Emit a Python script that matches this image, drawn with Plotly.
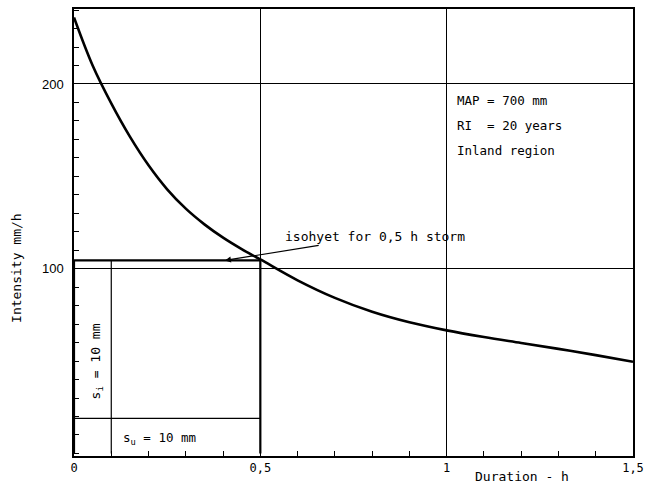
import plotly.graph_objects as go

# Intensity-duration curve
duration_h = [0.0, 0.05, 0.1, 0.15, 0.2, 0.25, 0.3, 0.35, 0.4, 0.45, 0.5,
              0.6, 0.7, 0.8, 0.9, 1.0, 1.1, 1.2, 1.3, 1.4, 1.5]
intensity = [236, 210, 189.5, 171.5, 156, 143, 132.5, 124, 116.8, 110.6, 105,
             93.7, 84.2, 76.7, 71.0, 66.6, 63.0, 59.8, 56.6, 53.2, 49.6]

storm_duration = 0.5
storm_intensity = 104.5
si_duration = 0.1
su_intensity = 19

x_tickvals = [0, 0.5, 1, 1.5]
x_ticktext = ["0", "0,5", "1", "1,5"]
y_tickvals = [100, 200]
y_ticktext = ["100", "200"]

info_lines = ["MAP = 700 mm", "RI&nbsp;&nbsp;= 20 years", "Inland region"]

mono = "DejaVu Sans Mono"
sans = "Liberation Sans"

fig = go.Figure()

# storm rectangle
fig.add_trace(go.Scatter(
    x=[0, 0, storm_duration, storm_duration],
    y=[0, storm_intensity, storm_intensity, 0],
    mode="lines", line=dict(color="black", width=2.2), hoverinfo="skip"))
# s_i divider
fig.add_trace(go.Scatter(
    x=[si_duration, si_duration], y=[0, storm_intensity],
    mode="lines", line=dict(color="black", width=1.2), hoverinfo="skip"))
# s_u divider
fig.add_trace(go.Scatter(
    x=[0, storm_duration], y=[su_intensity, su_intensity],
    mode="lines", line=dict(color="black", width=1.2), hoverinfo="skip"))
# curve
fig.add_trace(go.Scatter(
    x=duration_h, y=intensity, mode="lines", line_shape="spline",
    line=dict(color="black", width=2.6), hoverinfo="skip"))

annotations = []
for i, t in enumerate(info_lines):
    annotations.append(dict(
        x=1.022, y=191.3 - i * 13.6, xref="x", yref="y", text=t, showarrow=False,
        xanchor="left", yanchor="middle", font=dict(family=mono, size=12.5, color="black")))

annotations.append(dict(
    x=0.405, y=storm_intensity, xref="x", yref="y",
    text="isohyet for 0,5 h storm", showarrow=True,
    ax=150, ay=-24, arrowhead=2, arrowsize=1, arrowwidth=1.2, arrowcolor="black",
    font=dict(family=mono, size=13, color="black")))

annotations.append(dict(
    x=0.06, y=50, xref="x", yref="y", text="s<sub>i</sub> = 10 mm",
    textangle=-90, showarrow=False, xanchor="center", yanchor="middle",
    font=dict(family=mono, size=13, color="black")))
annotations.append(dict(
    x=0.23, y=8, xref="x", yref="y", text="s<sub>u</sub> = 10 mm",
    showarrow=False, xanchor="center", yanchor="middle",
    font=dict(family=mono, size=12.5, color="black")))

annotations.append(dict(
    x=-0.102, y=100.4, xref="paper", yref="y", text="Intensity mm/h",
    textangle=-90, showarrow=False, xanchor="center", yanchor="middle",
    font=dict(family=mono, size=13, color="black")))
annotations.append(dict(
    x=1.202, y=-1.4, xref="x", yref="y", yshift=-20, text="Duration - h",
    showarrow=False, xanchor="center", yanchor="middle",
    font=dict(family=mono, size=13, color="black")))

fig.update_layout(
    width=648, height=484,
    margin=dict(l=74, r=15, t=9, b=28, autoexpand=False),
    paper_bgcolor="white", plot_bgcolor="white",
    showlegend=False,
    annotations=annotations,
    xaxis=dict(
        range=[0, 1.5], tickvals=x_tickvals, ticktext=x_ticktext,
        ticks="inside", ticklen=5, tickcolor="black",
        showgrid=True, gridcolor="black", gridwidth=1,
        showline=True, linecolor="black", linewidth=1.5, mirror=True,
        zeroline=False,
        tickfont=dict(family=mono, size=12, color="black"),
        minor=dict(tick0=0, dtick=0.1, ticks="inside", ticklen=5,
                   tickcolor="black", showgrid=False),
    ),
    yaxis=dict(
        range=[-1.4, 240.6], tickvals=y_tickvals, ticktext=y_ticktext,
        ticks="inside", ticklen=5, tickcolor="black",
        showgrid=True, gridcolor="black", gridwidth=1,
        showline=True, linecolor="black", linewidth=1.5, mirror=True,
        zeroline=False, ticklabelstandoff=6,
        tickfont=dict(family=sans, size=13, color="black"),
        minor=dict(tick0=0, dtick=10, ticks="inside", ticklen=5,
                   tickcolor="black", showgrid=False),
    ),
)

fig.write_html(
    "out.html",
    config={"displayModeBar": False},
    post_script="document.body.style.margin='0';document.body.style.overflow='hidden';",
)
